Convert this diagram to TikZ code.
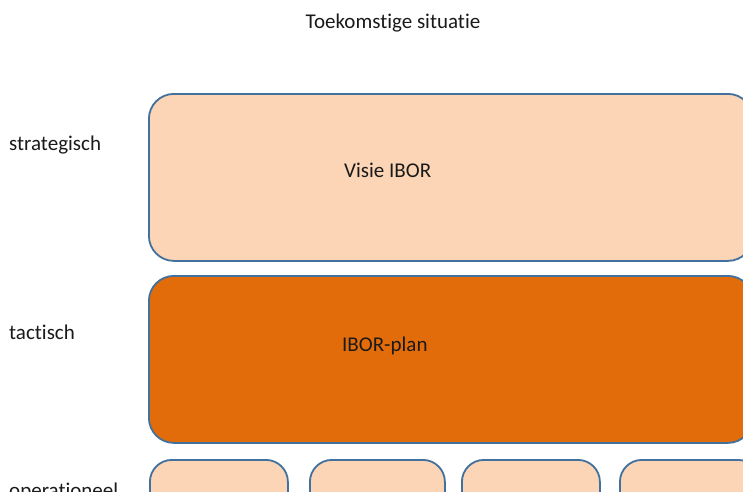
\documentclass[tikz,border=0pt]{standalone}
\usepackage{fontspec}
\setmainfont[Ligatures={NoCommon}]{Carlito}
\definecolor{lightorange}{HTML}{FBD5B5}
\definecolor{darkorange}{HTML}{E36C0A}
\definecolor{boxborder}{HTML}{41719C}
\definecolor{txt}{HTML}{1A1A1A}
\begin{document}
\begin{tikzpicture}[x=1pt,y=-1pt,
  box/.style={draw=boxborder,line width=1.8pt,rounded corners=25pt,inner sep=0pt,anchor=north west},
  smallbox/.style={box,rounded corners=22pt,fill=lightorange,minimum height=120pt},
  lbl/.style={font=\fontsize{21}{25}\selectfont,text=txt,inner sep=0pt,anchor=base west}]
\useasboundingbox (0,0) rectangle (743,491);
\clip (0,0) rectangle (743,491);
\fill[white] (0,0) rectangle (743,491);
\node[box,fill=lightorange,minimum width=604pt,minimum height=167pt] (strat) at (148,93) {};
\node[box,fill=darkorange,minimum width=604pt,minimum height=167pt] (tact) at (148,275) {};
\node[smallbox,minimum width=138pt] (op1) at (149,459) {};
\node[smallbox,minimum width=135pt] (op2) at (309,459) {};
\node[smallbox,minimum width=138pt] (op3) at (461,459) {};
\node[smallbox,minimum width=140pt] (op4) at (619,459) {};
\node[lbl,anchor=base] (title) at (393,28) {Toekomstige situatie};
\node[lbl] (visie) at (344,177) {Visie IBOR};
\node[lbl] (plan) at (342,351) {IBOR-plan};
\node[lbl] (l1) at (9,150) {strategisch};
\node[lbl] (l2) at (9,339) {tactisch};
\node[lbl] (l3) at (9,497) {operationeel};
\end{tikzpicture}
\end{document}
